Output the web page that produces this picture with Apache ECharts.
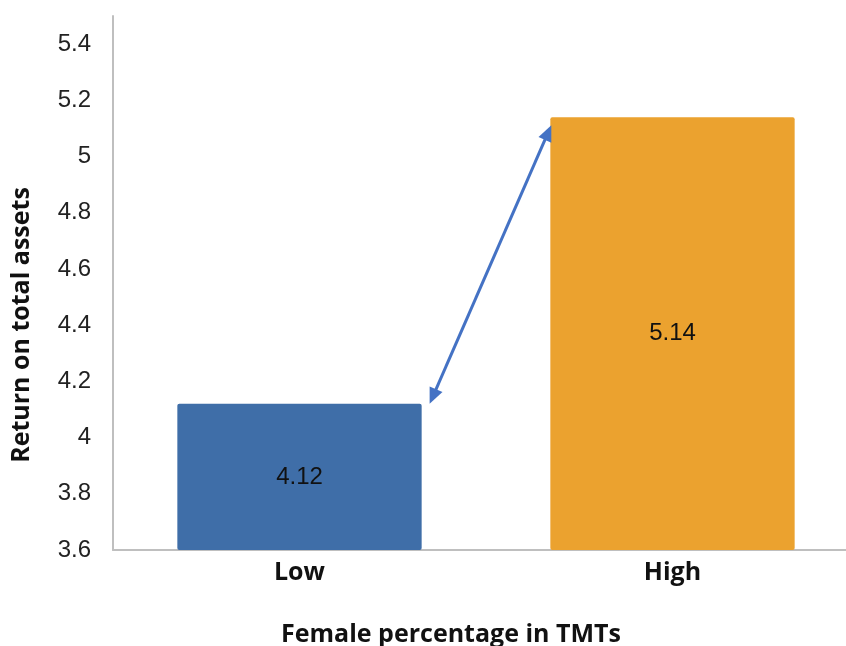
<!DOCTYPE html>
<html>
<head>
<meta charset="utf-8">
<script src="https://cdn.jsdelivr.net/npm/echarts@6/dist/echarts.min.js"></script>
<style>
html,body{margin:0;padding:0;background:#fff;}
#chart{width:846px;height:646px;}
</style>
</head>
<body>
<div id="chart"></div>
<script>
// Return on total assets by share of women in top management teams
const categories = ['Low', 'High'];
const roaValues = [4.12, 5.14];
const barColors = ['#3F6EA8', '#EBA22F'];
const yMin = 3.6, yMax = 5.5, yStep = 0.2;

const chart = echarts.init(document.getElementById('chart'));
const titleFont = '"Open Sans", "Noto Sans", sans-serif';
const numFont = '"Liberation Sans", Arial, sans-serif';

chart.setOption({
  animation: false,
  grid: { left: 113, right: -13, top: 16, bottom: 96, containLabel: false, outerBoundsMode: 'none' },
  xAxis: {
    type: 'category',
    data: categories,
    name: 'Female percentage in TMTs',
    nameLocation: 'middle',
    nameGap: 72,
    nameTextStyle: { fontFamily: titleFont, fontWeight: 'bold', fontSize: 25, color: '#111', padding: [0, 70, 0, 0] },
    axisLine: { lineStyle: { color: '#BFBFBF', width: 2 } },
    axisTick: { show: false },
    axisLabel: { fontFamily: titleFont, fontWeight: 'bold', fontSize: 25, color: '#111', margin: 10 }
  },
  yAxis: {
    type: 'value',
    min: yMin,
    max: yMax,
    interval: yStep,
    name: 'Return on total assets',
    nameLocation: 'middle',
    nameGap: 79,
    nameRotate: 90,
    nameTextStyle: { fontFamily: titleFont, fontWeight: 'bold', fontSize: 25, color: '#111', padding: [0, 84, 0, 0], align: 'center' },
    axisLine: { show: true, lineStyle: { color: '#BFBFBF', width: 2 } },
    axisTick: { show: false },
    splitLine: { show: false },
    axisLabel: {
      showMaxLabel: false,
      fontFamily: numFont,
      fontSize: 24,
      color: '#222',
      margin: 22,
      formatter: v => String(Math.round(v * 10) / 10)
    }
  },
  series: [{
    type: 'bar',
    barWidth: '65.5%',
    data: roaValues.map((v, i) => ({ value: v, itemStyle: { color: barColors[i], borderRadius: 2 } })),
    label: {
      show: true,
      position: 'inside',
      fontFamily: numFont,
      fontSize: 24,
      color: '#111',
      formatter: p => p.value.toFixed(2)
    }
  }]
});

// Double-headed arrow linking the top of the two bars
function drawArrow() {
  const pLow = chart.convertToPixel({ gridIndex: 0 }, [0, roaValues[0]]);
  const pHigh = chart.convertToPixel({ gridIndex: 0 }, [1, roaValues[1]]);
  const band = pHigh[0] - pLow[0];
  const half = band * 0.655 / 2;
  const x1 = pLow[0] + half + 8, y1 = pLow[1];
  const x2 = pHigh[0] - half + 1, y2 = pHigh[1] + 8;
  const ang = Math.atan2(y2 - y1, x2 - x1);
  const head = 16, wing = 7;
  function headShape(tx, ty, a) {
    const bx = tx - head * Math.cos(a), by = ty - head * Math.sin(a);
    const nx = -Math.sin(a) * wing, ny = Math.cos(a) * wing;
    return [[tx, ty], [bx + nx, by + ny], [bx - nx, by - ny]];
  }
  const inset = 12;
  chart.setOption({
    graphic: [
      { type: 'line', z: 10, shape: {
          x1: x1 + inset * Math.cos(ang), y1: y1 + inset * Math.sin(ang),
          x2: x2 - inset * Math.cos(ang), y2: y2 - inset * Math.sin(ang) },
        style: { stroke: '#4472C4', lineWidth: 3 } },
      { type: 'polygon', z: 10, shape: { points: headShape(x2, y2, ang) }, style: { fill: '#4472C4' } },
      { type: 'polygon', z: 10, shape: { points: headShape(x1, y1, ang + Math.PI) }, style: { fill: '#4472C4' } }
    ]
  });
}
drawArrow();
</script>
</body>
</html>
